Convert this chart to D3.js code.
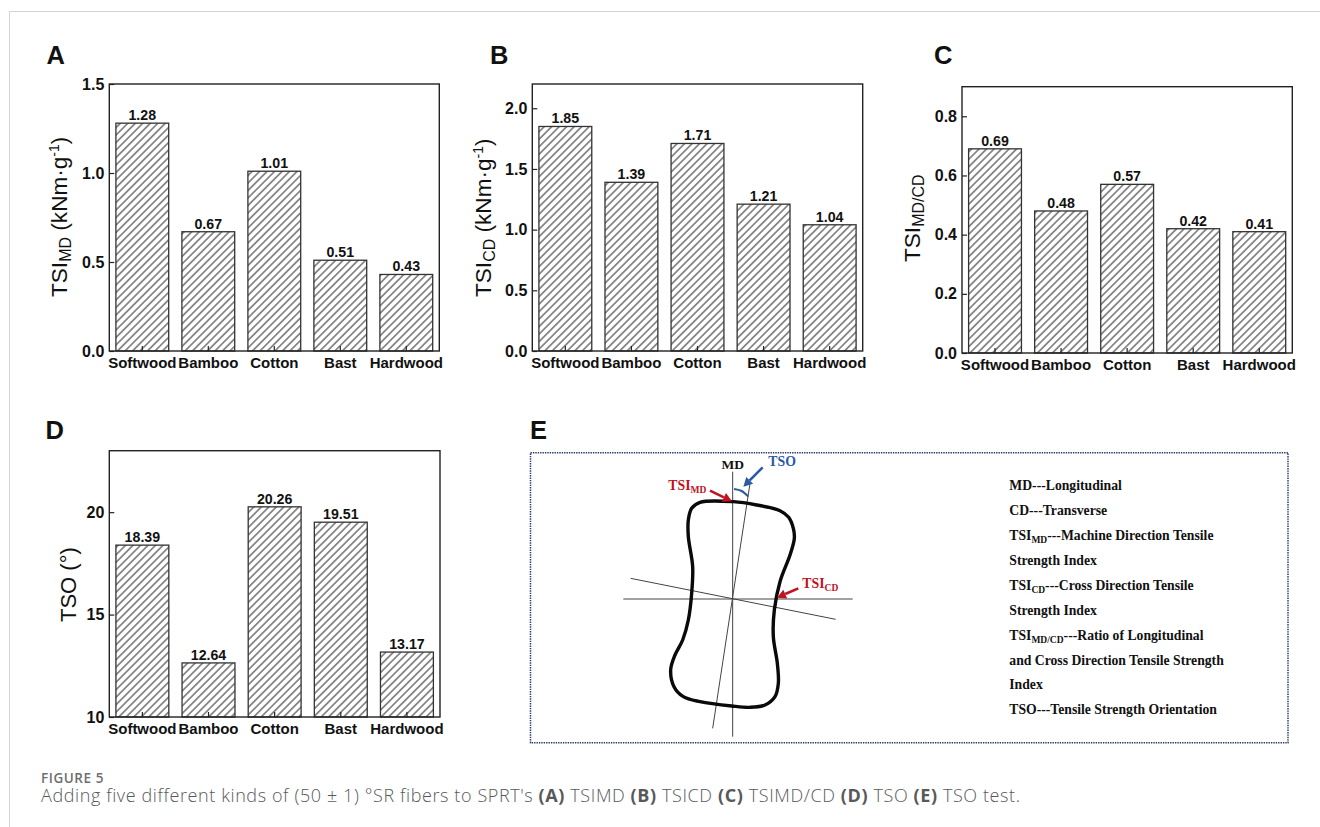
<!DOCTYPE html>
<html><head><meta charset="utf-8">
<script src="https://cdn.jsdelivr.net/npm/d3@7/dist/d3.min.js"></script>
<style>html,body{margin:0;padding:0;background:#fff}svg{display:block}
text{font-family:"Liberation Sans",Arial,sans-serif;fill:#111}</style></head>
<body><svg id="c" width="1320" height="827"></svg>
<script>
const categories = ["Softwood","Bamboo","Cotton","Bast","Hardwood"];
const tsiMD = [1.28,0.67,1.01,0.51,0.43];
const tsiCD = [1.85,1.39,1.71,1.21,1.04];
const tsiRatio = [0.69,0.48,0.57,0.42,0.41];
const tso = [18.39,12.64,20.26,19.51,13.17];
const ticksA = [0,0.5,1.0,1.5];
const ticksB = [0,0.5,1.0,1.5,2.0];
const ticksC = [0,0.2,0.4,0.6,0.8];
const ticksD = [10,15,20];
const legendLines = [
 [["MD---Longitudinal"]],
 [["CD---Transverse"]],
 [["TSI"],["MD",1],["---Machine Direction Tensile"]],
 [["Strength Index"]],
 [["TSI"],["CD",1],["---Cross Direction Tensile"]],
 [["Strength Index"]],
 [["TSI"],["MD/CD",1],["---Ratio of Longitudinal"]],
 [["and Cross Direction Tensile Strength"]],
 [["Index"]],
 [["TSO---Tensile Strength Orientation"]]
];
const legendBaselines = [490,515,540,565,590,615,640,664.5,689,714];
// Schematic specimen outline, in units of the schematic's own grid
const outline = [[300,187],[400,185],[470,195],[540,212],[566,232],[580,265],[583,295],[570,345],[540,425],[523,510],[520,590],[532,670],[535,730],[525,770],[495,795],[450,802],[395,798],[300,785],[250,770],[222,740],[212,690],[225,645],[248,600],[265,540],[275,460],[278,380],[265,290],[265,240],[275,205]];
const axesLines = [[[398,95],[398,890]],[[70,477],[758,477]],[[92,415],[707,538]],[[450,130],[338,865]]];
const tsoArc = [[402,147],[425,153],[445,170]];
const arrows = [
 {from:[330,152],to:[396,184],color:"#c1121f"},
 {from:[595,445],to:[531,473],color:"#c1121f"},
 {from:[488,82],to:[430,140],color:"#2b5aa5"}
];

const svg = d3.select("#c");
const defs = svg.append("defs");
const hatch = defs.append("pattern").attr("id","hatch").attr("patternUnits","userSpaceOnUse")
  .attr("width",5.3).attr("height",5.3).attr("patternTransform","rotate(45)");
hatch.append("line").attr("x1",2.65).attr("x2",2.65).attr("y1",0).attr("y2",5.3)
  .attr("stroke","#333").attr("stroke-width",1.05);

// Page frame
svg.append("line").attr("x1",9.5).attr("x2",1320).attr("y1",11.5).attr("y2",11.5).attr("stroke","#d4d4d4").attr("stroke-width",1);
svg.append("line").attr("x1",9.5).attr("x2",9.5).attr("y1",11.5).attr("y2",827).attr("stroke","#d4d4d4").attr("stroke-width",1);

function panel(o){
  const g = svg.append("g");
  const x = d3.scaleBand().domain(categories).range([o.x0,o.x1]).paddingInner(0.2).paddingOuter(0.1);
  const y = d3.scaleLinear().domain(o.domain).range([o.y1,o.y0]);
  g.selectAll("rect.bar").data(o.values).join("rect").attr("class","bar")
    .attr("x",(d,i)=>x(categories[i])).attr("width",x.bandwidth())
    .attr("y",d=>y(d)).attr("height",d=>y(o.domain[0])-y(d))
    .attr("fill","url(#hatch)").attr("stroke","#333").attr("stroke-width",1.3);
  g.selectAll("text.val").data(o.values).join("text").attr("class","val")
    .attr("x",(d,i)=>x(categories[i])+x.bandwidth()/2).attr("y",d=>y(d)-3)
    .attr("text-anchor","middle").attr("font-size",14.2).attr("font-weight",700)
    .text(d=>d.toFixed(2));
  g.append("rect").attr("x",o.x0).attr("y",o.y0).attr("width",o.x1-o.x0).attr("height",o.y1-o.y0)
    .attr("fill","none").attr("stroke","#222").attr("stroke-width",1.4);
  const ay = g.append("g").attr("transform",`translate(${o.x0},0)`)
    .call(d3.axisLeft(y).tickValues(o.ticks).tickSize(-5).tickPadding(5).tickFormat(d3.format(o.fmt)));
  ay.select(".domain").remove();
  ay.selectAll("line").attr("stroke","#222").attr("stroke-width",1.2);
  ay.selectAll("text").attr("font-size",16).attr("font-weight",700).attr("font-family","Liberation Sans").attr("fill","#111");
  const ax = g.append("g").attr("transform",`translate(0,${o.y1})`)
    .call(d3.axisBottom(x).tickSize(-5).tickPadding(6.5));
  ax.select(".domain").remove();
  ax.selectAll("line").attr("stroke","#222").attr("stroke-width",1.2);
  ax.selectAll("text").attr("font-size",15).attr("font-weight",700).attr("font-family","Liberation Sans").attr("fill","#111");
  const t = g.append("text").attr("transform",`translate(${o.titleX},${o.titleY}) rotate(-90)`)
    .attr("font-size",o.titleSize||22.6).attr("fill","#222");
  o.title.forEach(s=>{
    const ts = t.append("tspan").text(s.t);
    if(s.sub) ts.attr("font-size",16).attr("dy",4);
    else if(s.sup) ts.attr("font-size",14).attr("dy",-8);
    else if(s.back) ts.attr("dy",s.back);
  });
  g.append("text").attr("x",o.letterX).attr("y",o.letterY).attr("font-size",25.5).attr("font-weight",700).text(o.letter);
}

panel({letter:"A",letterX:46.5,letterY:64,x0:109.3,x1:439.3,y0:84,y1:351,domain:[0,1.5],values:tsiMD,ticks:ticksA,fmt:".1f",
  titleX:67,titleY:297,title:[{t:"TSI"},{t:"MD",sub:1},{t:" (kNm·g",back:-4},{t:"-1",sup:1},{t:")",back:8}]});
panel({letter:"B",letterX:490,letterY:64,x0:532.3,x1:862.7,y0:84,y1:351,domain:[0,2.2],values:tsiCD,ticks:ticksB,fmt:".1f",
  titleX:490.5,titleY:297,title:[{t:"TSI"},{t:"CD",sub:1},{t:" (kNm·g",back:-4},{t:"-1",sup:1},{t:")",back:8}]});
panel({letter:"C",letterX:934,letterY:64,x0:962,x1:1292.3,y0:86.7,y1:353,domain:[0,0.9],values:tsiRatio,ticks:ticksC,fmt:".1f",
  titleX:920,titleY:262,title:[{t:"TSI"},{t:"MD/CD",sub:1}]});
panel({letter:"D",letterX:45.5,letterY:439,x0:109.3,x1:440,y0:450.7,y1:717,domain:[10,23],values:tso,ticks:ticksD,fmt:"d",
  titleX:76,titleY:622,titleSize:22,title:[{t:"TSO (°)"}]});

// Panel E
svg.append("text").attr("x",530).attr("y",439).attr("font-size",25.5).attr("font-weight",700).text("E");
svg.append("rect").attr("x",530.5).attr("y",452.7).attr("width",757.5).attr("height",290)
  .attr("fill","none").attr("stroke","#2c3a68").attr("stroke-width",1.5).attr("stroke-dasharray","1.4 1");

const sx = d3.scaleLinear().domain([0,300]).range([600,700]);
const sy = d3.scaleLinear().domain([0,300]).range([440,540]);
const sLine = d3.line().x(d=>sx(d[0])).y(d=>sy(d[1]));
const sch = svg.append("g");
sch.selectAll("path.ax").data(axesLines).join("path").attr("class","ax").attr("d",d=>sLine(d))
  .attr("stroke","#444").attr("stroke-width",1).attr("fill","none");
sch.append("path").attr("d",d3.line().x(d=>sx(d[0])).y(d=>sy(d[1])).curve(d3.curveCatmullRomClosed)(outline))
  .attr("fill","none").attr("stroke","#0a0a0a").attr("stroke-width",3.4);
sch.append("path").attr("d",d3.line().x(d=>sx(d[0])).y(d=>sy(d[1])).curve(d3.curveNatural)(tsoArc))
  .attr("fill","none").attr("stroke","#2b5aa5").attr("stroke-width",2);
arrows.forEach(a=>{
  const [x0,y0]=[sx(a.from[0]),sy(a.from[1])],[x1,y1]=[sx(a.to[0]),sy(a.to[1])];
  const ang=Math.atan2(y1-y0,x1-x0),L=9,W=4.8;
  const bx=x1-L*Math.cos(ang),by=y1-L*Math.sin(ang);
  sch.append("line").attr("x1",x0).attr("y1",y0).attr("x2",bx).attr("y2",by).attr("stroke",a.color).attr("stroke-width",2.6);
  sch.append("path").attr("fill",a.color).attr("d",`M${x1},${y1}L${bx-W*Math.sin(ang)},${by+W*Math.cos(ang)}L${bx+W*Math.sin(ang)},${by-W*Math.cos(ang)}Z`);
});
const serif = "'Liberation Serif',serif";
function serifLabel(parent,x,y,size,subSize,color,parts,anchor){
  const t=parent.append("text").attr("x",x).attr("y",y).attr("font-size",size).attr("font-weight",700)
    .attr("font-family",serif).attr("text-anchor",anchor||"start").style("font-family",serif).style("fill",color);
  let off=0;
  parts.forEach(p=>{
    const ts=t.append("tspan").text(p[0]);
    const want=p[1]?3:0;
    ts.attr("dy",want-off); off=want;
    if(p[1]) ts.attr("font-size",subSize);
  });
}
serifLabel(sch,sx(398),sy(86),13.5,9,"#111",[["MD"]],"middle");
serifLabel(sch,sx(505),sy(79),13.8,9,"#2b5aa5",[["TSO"]]);
serifLabel(sch,sx(205),sy(151),13.8,9.5,"#c1121f",[["TSI"],["MD",1]]);
serifLabel(sch,sx(607),sy(444),13.8,9.5,"#c1121f",[["TSI"],["CD",1]]);

legendLines.forEach((parts,i)=>serifLabel(svg,1009.3,legendBaselines[i],13.7,9.5,"#111",parts));

// Caption
const capFont="'Open Sans',Lato,sans-serif";
svg.append("text").attr("x",41).attr("y",782.5).attr("font-size",13.5).attr("font-weight",600).attr("letter-spacing",0.55)
  .style("font-family",capFont).style("fill","#6d6e71").text("FIGURE 5");
const cap=svg.append("text").attr("x",41).attr("y",802.3).attr("font-size",18).attr("font-weight",300).attr("letter-spacing",0.6)
  .style("font-family",capFont).style("fill","#58595b");
[["Adding five different kinds of (50 ± 1) °SR fibers to SPRT's ",0],["(A)",1],[" TSIMD ",0],["(B)",1],[" TSICD ",0],["(C)",1],[" TSIMD/CD ",0],["(D)",1],[" TSO ",0],["(E)",1],[" TSO test.",0]]
 .forEach(p=>{const ts=cap.append("tspan").text(p[0]); if(p[1]) ts.attr("font-weight",700);});
</script></body></html>
